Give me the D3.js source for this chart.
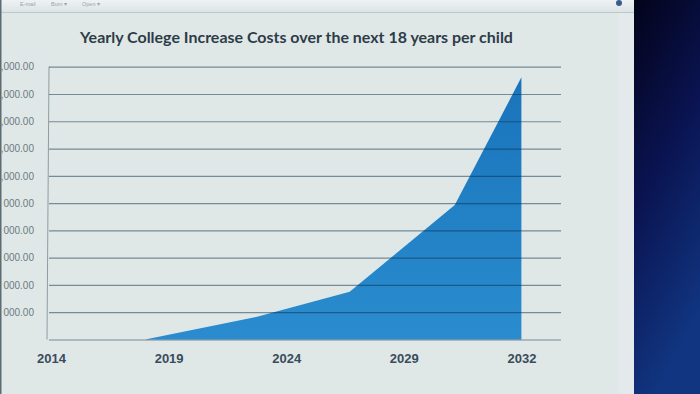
<!DOCTYPE html>
<html>
<head>
<meta charset="utf-8">
<script src="https://cdn.jsdelivr.net/npm/d3@7.9.0/dist/d3.min.js"></script>
<style>
  body { margin: 0; background: #dfe8e7; overflow: hidden; }
  svg { display: block; }
</style>
</head>
<body>
<svg id="chart" width="700" height="394"></svg>
<script>
// values
const title = 'Yearly College Increase Costs over the next 18 years per child';
const tickYears = [2014, 2019, 2024, 2029, 2032];
const years = [2014, 2018, 2022.8, 2026.7, 2030.3, 2032];
const costs = [0, 0, 8400, 17500, 49300, 96100];
const yTicks = [0, 10000, 20000, 30000, 40000, 50000, 60000, 70000, 80000, 90000, 100000];
// the photo cuts the value labels at the screen edge; this is the part that shows
const yLabels = ['', '000.00', '000.00', '000.00', '000.00', '000.00',
  ',000.00', ',000.00', ',000.00', ',000.00', ',000.00'];
const menuItems = ['E-mail', 'Burn ▾', 'Open ▾'];

const svg = d3.select('#chart');
const W = 700, H = 394;
const plot = { left: 49, right: 561, top: 66.7, bottom: 339.5 };

// screen background bits
const defs = svg.append('defs');
const bar = defs.append('linearGradient').attr('id', 'bar').attr('x1', 0).attr('x2', 0).attr('y1', 0).attr('y2', 1);
bar.append('stop').attr('offset', '0%').attr('stop-color', '#eef2f3');
bar.append('stop').attr('offset', '100%').attr('stop-color', '#dce4e6');
const night = defs.append('linearGradient').attr('id', 'night').attr('x1', 0).attr('x2', 0.3).attr('y1', 0).attr('y2', 1);
night.append('stop').attr('offset', '0%').attr('stop-color', '#03031a');
night.append('stop').attr('offset', '50%').attr('stop-color', '#0a1452');
night.append('stop').attr('offset', '100%').attr('stop-color', '#113580');
const fillGrad = defs.append('linearGradient').attr('id', 'fill').attr('x1', 0).attr('x2', 0).attr('y1', 0).attr('y2', 1);
fillGrad.append('stop').attr('offset', '0%').attr('stop-color', '#1a74bb');
fillGrad.append('stop').attr('offset', '100%').attr('stop-color', '#2a8ccf');

svg.append('rect').attr('width', W).attr('height', H).attr('fill', '#dfe8e7');
svg.append('rect').attr('x', 618).attr('width', 16).attr('height', H).attr('fill', '#e4e9eb');
svg.append('rect').attr('width', 634).attr('height', 12).attr('fill', 'url(#bar)');
svg.append('line').attr('x1', 0).attr('x2', 634).attr('y1', 12.5).attr('y2', 12.5)
  .attr('stroke', '#bcc7cb');
svg.selectAll('.menu').data(menuItems).join('text')
  .attr('class', 'menu')
  .attr('x', (d, i) => 20 + i * 31)
  .attr('y', 6)
  .attr('font-family', 'Liberation Sans, sans-serif')
  .attr('font-size', 5.5)
  .attr('fill', '#9aa5aa')
  .text(d => d);
svg.append('circle').attr('cx', 619).attr('cy', 3).attr('r', 3).attr('fill', '#3b5a8e');
svg.append('rect').attr('x', 634).attr('width', 66).attr('height', H).attr('fill', 'url(#night)');
svg.append('rect').attr('x', 0).attr('width', 1.5).attr('height', H).attr('fill', '#5d6c74');

// scales
const x = d3.scaleLinear()
  .domain(tickYears)
  .range(tickYears.map((d, i) => 51 + i * 117.6));
const y = d3.scaleLinear().domain([0, 100000]).range([plot.bottom, plot.top]);

// area
const points = years.map((d, i) => ({ year: d, cost: costs[i] }));
const area = d3.area()
  .x(d => x(d.year))
  .y0(y(0))
  .y1(d => y(d.cost));
svg.append('path')
  .datum(points)
  .attr('d', area)
  .attr('fill', 'url(#fill)');

// left edge of the plot
svg.append('line')
  .attr('x1', plot.left).attr('x2', plot.left - 2)
  .attr('y1', plot.top).attr('y2', plot.bottom)
  .attr('stroke', '#8d9ca2').attr('stroke-width', 1);

// gridlines + value labels
const yAxis = d3.axisLeft(y)
  .tickValues(yTicks)
  .tickSize(-(plot.right - plot.left))
  .tickPadding(15)
  .tickFormat((d, i) => yLabels[i]);
const gy = svg.append('g')
  .attr('transform', `translate(${plot.left},0)`)
  .call(yAxis);
gy.select('.domain').remove();
gy.selectAll('.tick line')
  .attr('stroke', '#0c2e4c')
  .attr('stroke-opacity', 0.5)
  .attr('stroke-width', 1.2);
gy.selectAll('.tick text')
  .attr('font-family', 'Liberation Sans, Arial, sans-serif')
  .attr('font-size', 10)
  .attr('fill', '#6c7b81');

// year labels
const xAxis = d3.axisBottom(x).tickValues(tickYears).tickSize(0).tickPadding(14).tickFormat(d3.format('d'));
const gx = svg.append('g')
  .attr('transform', `translate(0,${plot.bottom})`)
  .call(xAxis);
gx.select('.domain').remove();
gx.selectAll('.tick text')
  .attr('font-family', 'Liberation Sans, Arial, sans-serif')
  .attr('font-weight', 'bold')
  .attr('font-size', 13)
  .attr('fill', '#3a4b5c');

// title, sized to the width seen in the photo
const t = svg.append('text')
  .attr('x', 296.5)
  .attr('y', 43)
  .attr('text-anchor', 'middle')
  .attr('font-family', 'Lato, sans-serif')
  .attr('font-weight', 'bold')
  .attr('font-size', 16)
  .attr('fill', '#2e3c48')
  .text(title);
const tw = t.node().getComputedTextLength();
t.attr('font-size', 16 * 433 / tw);
</script>
</body>
</html>
